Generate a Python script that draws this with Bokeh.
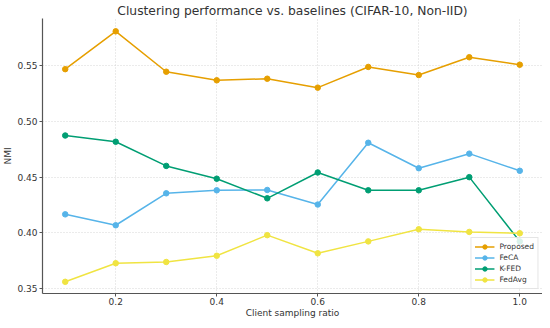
from bokeh.plotting import figure
from bokeh.models import FixedTicker, NumeralTickFormatter, Legend, LegendItem, Range1d
from bokeh.embed import file_html
from bokeh.resources import INLINE

ratios = [0.1, 0.2, 0.3, 0.4, 0.5, 0.6, 0.7, 0.8, 0.9, 1.0]
proposed = [0.547, 0.581, 0.5447, 0.537, 0.5384, 0.5304, 0.549, 0.5417, 0.5577, 0.551]
feca = [0.4166, 0.4068, 0.4355, 0.4382, 0.4385, 0.4254, 0.4809, 0.458, 0.4711, 0.4557]
kfed = [0.4874, 0.4818, 0.4601, 0.4486, 0.431, 0.4542, 0.4382, 0.4382, 0.450, 0.3923]
fedavg = [0.356, 0.3727, 0.3738, 0.3794, 0.3979, 0.3816, 0.3923, 0.4032, 0.4008, 0.3996]

series_names = ["Proposed", "FeCA", "K-FED", "FedAvg"]
series_values = [proposed, feca, kfed, fedavg]
colors = ["#E69F00", "#56B4E9", "#009E73", "#F0E442"]

x_ticks = [0.2, 0.4, 0.6, 0.8, 1.0]
y_ticks = [0.35, 0.40, 0.45, 0.50, 0.55]
x_label = "Client sampling ratio"
y_label = "NMI"
title = "Clustering performance vs. baselines (CIFAR-10, Non-IID)"

FONT = "DejaVu Sans"
X_MIN, X_MAX = 0.055, 1.045

p = figure(width=542, height=320, output_backend="svg", toolbar_location=None,
           x_range=Range1d(X_MIN, X_MAX), y_range=Range1d(0.3455, 0.5925),
           title=title,
           min_border_left=0, min_border_right=0, min_border_top=12, min_border_bottom=0)

p.title.text_font = FONT
p.title.text_font_size = "12.3px"
p.title.text_font_style = "normal"
p.title.text_color = "#333333"
p.title.align = "center"
p.title.standoff = 2
p.title.offset = 0

p.outline_line_color = None

for ax in (p.xaxis[0], p.yaxis[0]):
    ax.axis_line_color = "#555555"
    ax.axis_line_width = 1.2
    ax.major_tick_line_color = "#555555"
    ax.major_tick_out = 3
    ax.major_tick_in = 0
    ax.minor_tick_line_color = None
    ax.major_label_text_font = FONT
    ax.major_label_text_font_size = "9px"
    ax.major_label_text_color = "#333333"
    ax.major_label_standoff = 2
    ax.axis_label_text_font = FONT
    ax.axis_label_text_font_size = "9px"
    ax.axis_label_text_font_style = "normal"
    ax.axis_label_text_color = "#333333"
    ax.axis_label_standoff = 1

p.xaxis[0].ticker = FixedTicker(ticks=x_ticks)
p.xaxis[0].formatter = NumeralTickFormatter(format="0.0")
p.xaxis[0].axis_label = x_label
p.xaxis[0].major_label_standoff = 1
p.xaxis[0].axis_label_standoff = 0
p.yaxis[0].ticker = FixedTicker(ticks=y_ticks)
p.yaxis[0].formatter = NumeralTickFormatter(format="0.00")
p.yaxis[0].axis_label = y_label

for g in (p.xgrid[0], p.ygrid[0]):
    g.grid_line_color = "#cccccc"
    g.grid_line_dash = "1 2"
    g.grid_line_width = 0.8

items = []
for name, vals, c in zip(series_names, series_values, colors):
    r1 = p.line(ratios, vals, line_color=c, line_width=1.5)
    r2 = p.scatter(ratios, vals, size=5.5, fill_color=c, line_color=c)
    items.append(LegendItem(label=name, renderers=[r1, r2]))

legend = Legend(items=items, location="bottom_right")
legend.label_text_font = FONT
legend.label_text_font_size = "7.5px"
legend.label_text_color = "#333333"
legend.label_height = 11
legend.glyph_height = 11
legend.glyph_width = 20
legend.spacing = 0
legend.padding = 3
legend.margin = 4
legend.label_standoff = 5
legend.border_line_color = "#cccccc"
legend.background_fill_alpha = 0.85
p.add_layout(legend)

open("out.html", "w").write(file_html(p, INLINE))
